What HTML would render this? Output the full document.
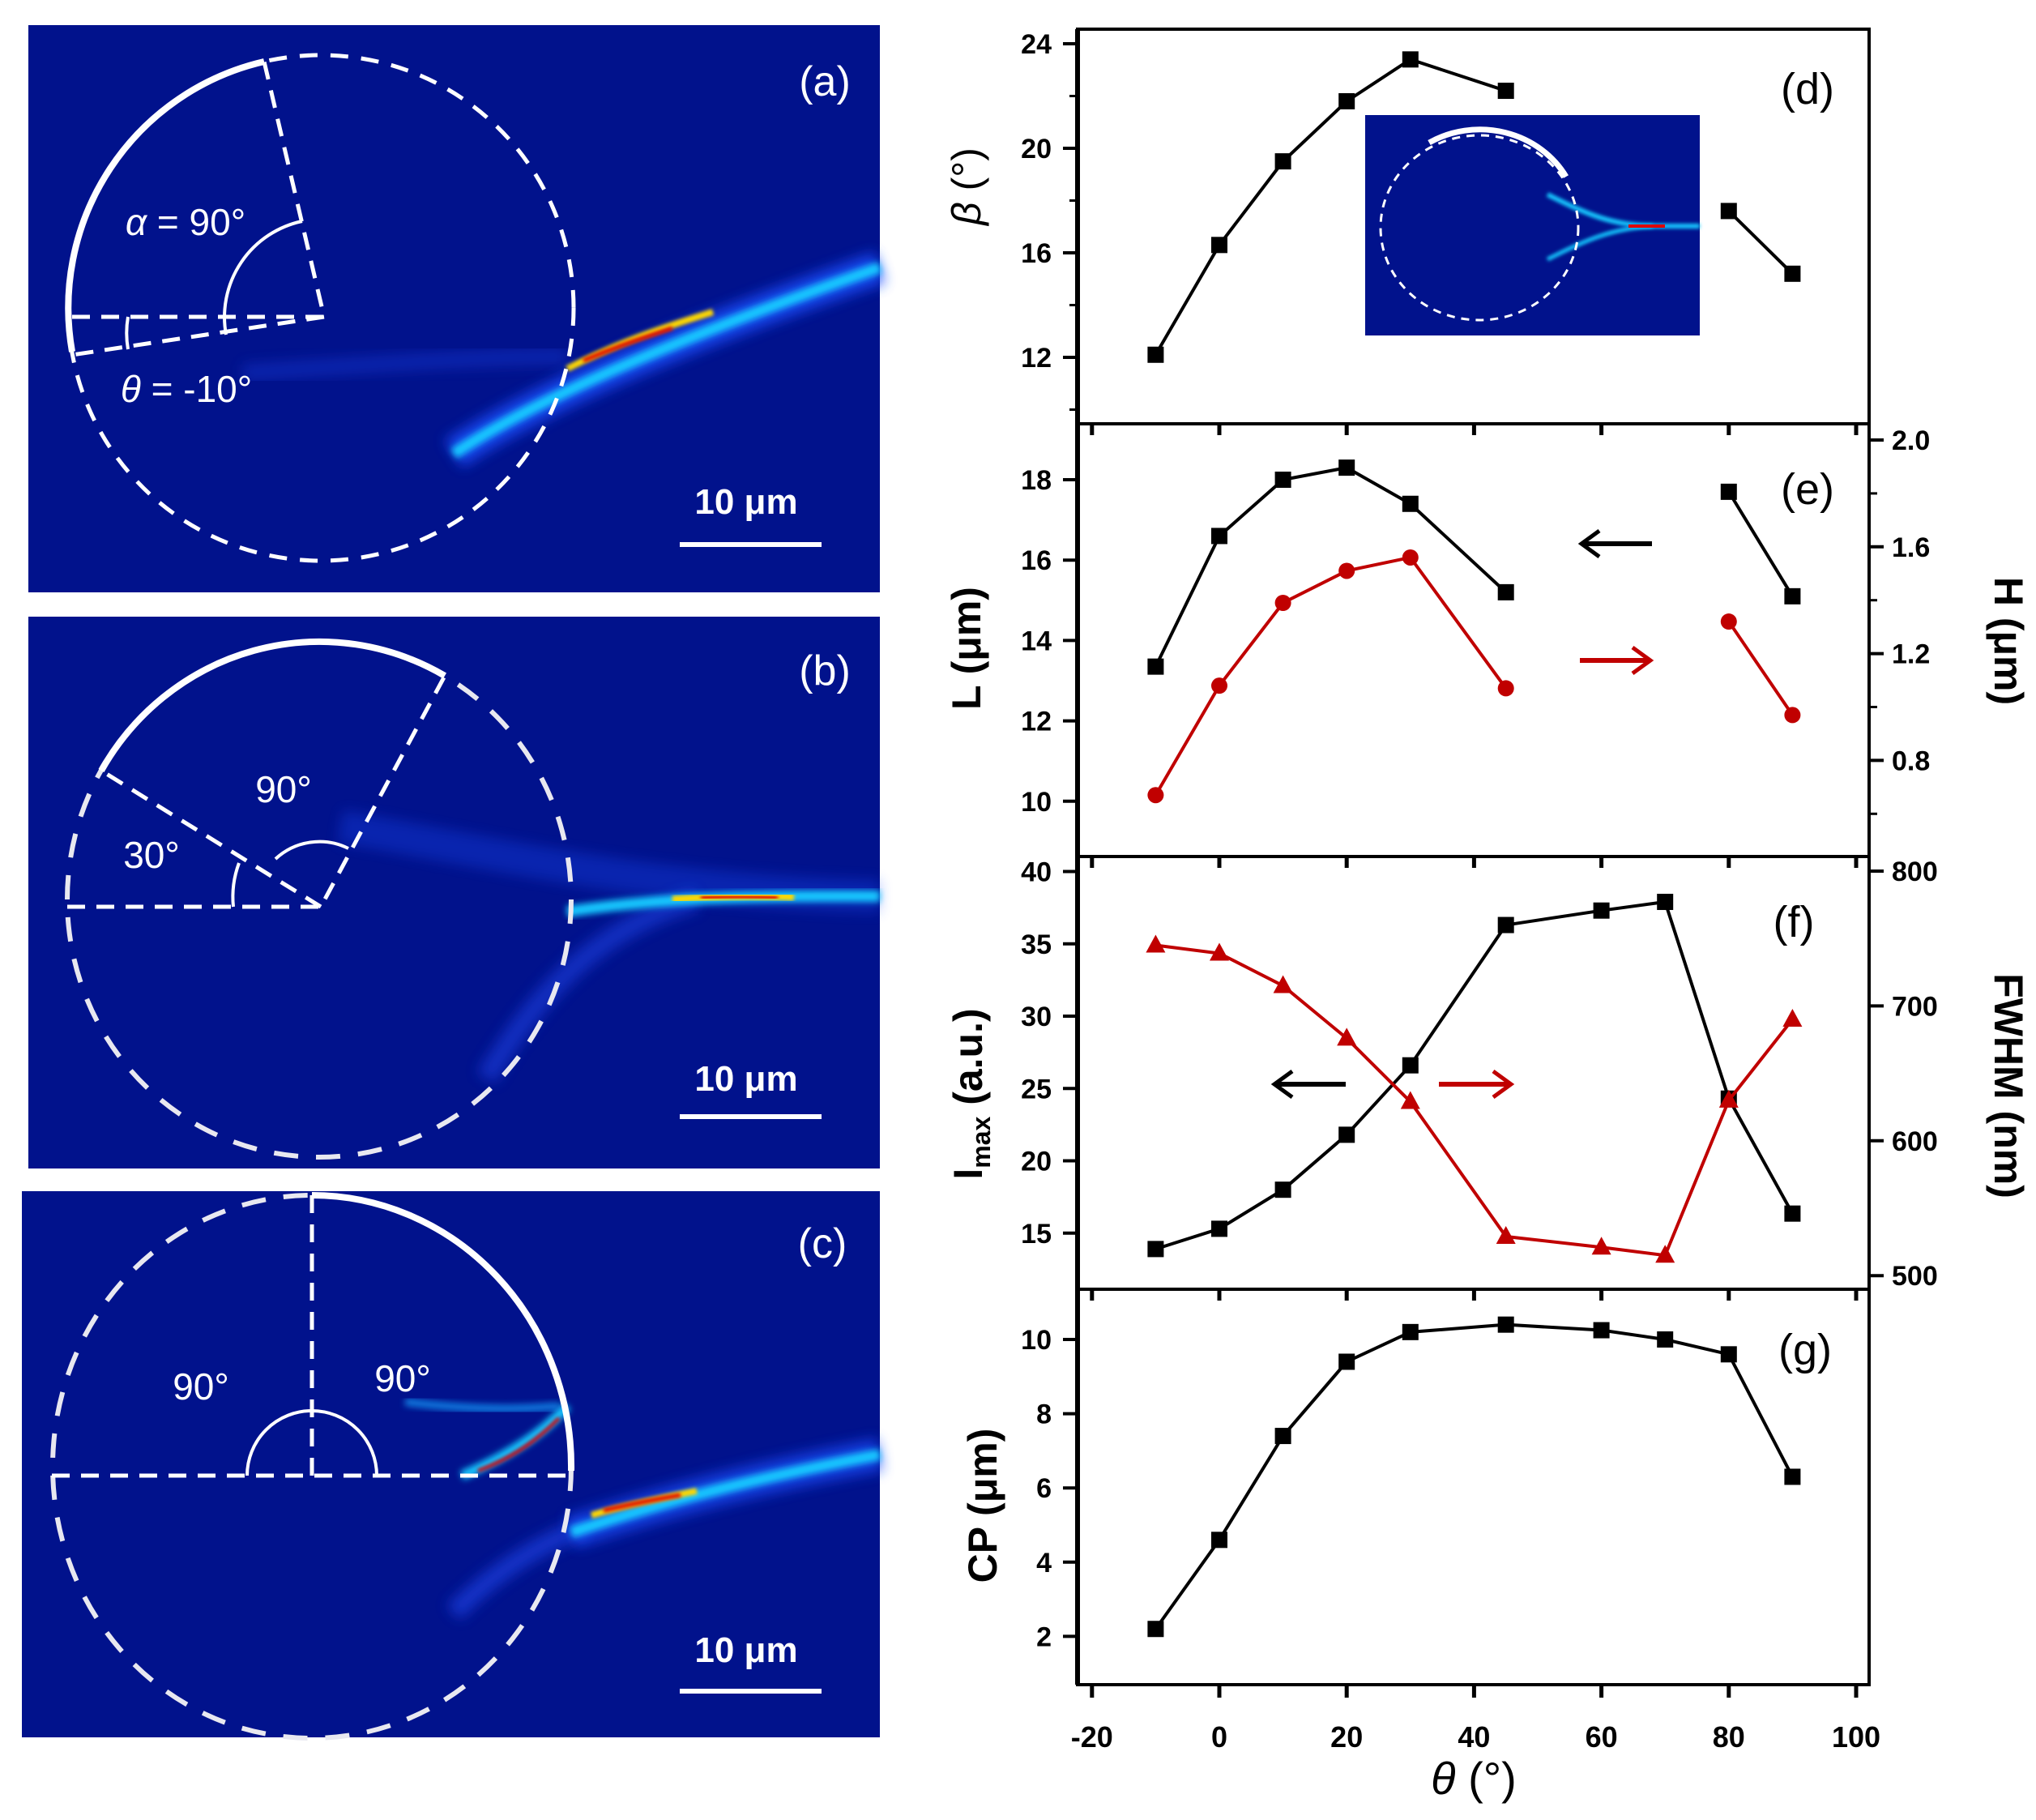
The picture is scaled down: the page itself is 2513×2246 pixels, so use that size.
<!DOCTYPE html>
<html><head><meta charset="utf-8"><style>
body{margin:0;background:#fff}
svg{display:block}
text{font-family:"Liberation Sans",sans-serif}
</style></head><body>
<svg id="fig" width="2513" height="2246" viewBox="0 0 2513 2246" xmlns="http://www.w3.org/2000/svg">
<defs>
<filter id="blur8" x="-50%" y="-50%" width="200%" height="200%"><feGaussianBlur stdDeviation="8"/></filter>
<filter id="blur4" x="-50%" y="-50%" width="200%" height="200%"><feGaussianBlur stdDeviation="4"/></filter>
<filter id="blur2" x="-50%" y="-50%" width="200%" height="200%"><feGaussianBlur stdDeviation="2"/></filter>
</defs>

<!-- Panel (a) -->
<g>
<rect x="35" y="31" width="1051" height="700" fill="#01128c"/>
<path d="M560,560 C650,500 800,430 1086,330" stroke="#1e50ff" stroke-width="40" fill="none" filter="url(#blur8)" opacity="0.8"/>
<path d="M560,560 C650,500 800,430 1086,330" stroke="#12c8ff" stroke-width="14" fill="none" filter="url(#blur4)"/>
<path d="M700,455 C760,425 800,410 880,385" stroke="#ffd800" stroke-width="8" fill="none" filter="url(#blur2)"/>
<path d="M720,445 C760,428 790,418 830,405" stroke="#e00000" stroke-width="5" fill="none" filter="url(#blur2)"/>
<path d="M300,460 C450,450 600,440 700,440" stroke="#1a40e0" stroke-width="20" fill="none" filter="url(#blur8)" opacity="0.4"/>
<circle cx="396" cy="380" r="312" fill="none" stroke="#fff" stroke-width="5" stroke-dasharray="22,16"/>
<path d="M326,76 A312,312 0 0 0 89,434" stroke="#fff" stroke-width="8" fill="none"/>
<path d="M89,391 L400,391 L326,76 M400,391 L89,438" stroke="#fff" stroke-width="5" stroke-dasharray="22,14" fill="none"/>
<path d="M279,413 A121,121 0 0 1 373,273" stroke="#fff" stroke-width="4" fill="none"/>
<path d="M158,391 A12,40 0 0 0 158,431" stroke="#fff" stroke-width="4" fill="none"/>
<text x="229" y="290" font-size="46" fill="#fff" text-anchor="middle"><tspan font-style="italic">α</tspan> = 90°</text>
<text x="230" y="496" font-size="46" fill="#fff" text-anchor="middle"><tspan font-style="italic">θ</tspan> = -10°</text>
<text x="1018" y="118" font-size="52" fill="#fff" text-anchor="middle">(a)</text>
<text x="921" y="634" font-size="44" font-weight="bold" fill="#fff" text-anchor="middle">10 μm</text>
<rect x="839" y="669" width="175" height="6" fill="#fff"/>
</g>

<!-- Panel (b) -->
<g>
<rect x="35" y="761" width="1051" height="681" fill="#01128c"/>
<path d="M600,1330 C650,1250 720,1150 860,1110" stroke="#1a40e0" stroke-width="26" fill="none" filter="url(#blur8)" opacity="0.6"/>
<path d="M420,1020 C600,1050 800,1100 1086,1106" stroke="#1e50ff" stroke-width="40" fill="none" filter="url(#blur8)" opacity="0.3"/>
<path d="M700,1125 C800,1110 900,1105 1086,1106" stroke="#12c8ff" stroke-width="14" fill="none" filter="url(#blur4)"/>
<path d="M830,1110 C880,1106 920,1105 980,1107" stroke="#ffd800" stroke-width="9" fill="none" filter="url(#blur2)"/>
<path d="M865,1108 C900,1106 930,1106 960,1108" stroke="#e00000" stroke-width="5" fill="none" filter="url(#blur2)"/>
<ellipse cx="394" cy="1110" rx="311" ry="318" fill="none" stroke="#e8e8f0" stroke-width="6" stroke-dasharray="30,22"/>
<path d="M549,834 A311,318 0 0 0 125,951" stroke="#fff" stroke-width="8" fill="none"/>
<path d="M83,1119 L396,1119 L549,834 M396,1119 L125,951" stroke="#fff" stroke-width="5" stroke-dasharray="22,14" fill="none"/>
<path d="M340,1060 A80,80 0 0 1 430,1047" stroke="#fff" stroke-width="4" fill="none"/>
<path d="M295,1065 A120,120 0 0 0 288,1119" stroke="#fff" stroke-width="4" fill="none"/>
<text x="350" y="990" font-size="46" fill="#fff" text-anchor="middle">90°</text>
<text x="187" y="1071" font-size="46" fill="#fff" text-anchor="middle">30°</text>
<text x="1018" y="845" font-size="52" fill="#fff" text-anchor="middle">(b)</text>
<text x="921" y="1346" font-size="44" font-weight="bold" fill="#fff" text-anchor="middle">10 μm</text>
<rect x="839" y="1375" width="175" height="6" fill="#fff"/>
</g>

<!-- Panel (c) -->
<g>
<rect x="27" y="1470" width="1059" height="674" fill="#01128c"/>
<path d="M560,1990 C620,1930 680,1900 720,1885" stroke="#1a40e0" stroke-width="24" fill="none" filter="url(#blur8)" opacity="0.7"/>
<path d="M705,1891 C800,1860 900,1830 1086,1795" stroke="#1e50ff" stroke-width="40" fill="none" filter="url(#blur8)" opacity="0.7"/>
<path d="M705,1891 C800,1860 900,1830 1086,1795" stroke="#12c8ff" stroke-width="14" fill="none" filter="url(#blur4)"/>
<path d="M730,1870 C770,1858 820,1848 860,1840" stroke="#ffd800" stroke-width="8" fill="none" filter="url(#blur2)"/>
<path d="M745,1864 C780,1856 810,1850 840,1845" stroke="#e00000" stroke-width="5" fill="none" filter="url(#blur2)"/>
<path d="M570,1821 C620,1800 670,1770 700,1735" stroke="#12c8ff" stroke-width="12" fill="none" filter="url(#blur4)"/>
<path d="M590,1815 C630,1800 660,1780 690,1750" stroke="#e00000" stroke-width="4" fill="none" filter="url(#blur2)"/>
<path d="M500,1730 C580,1740 640,1740 690,1735" stroke="#12a0ff" stroke-width="10" fill="none" filter="url(#blur4)" opacity="0.7"/>
<ellipse cx="385" cy="1810" rx="320" ry="335" fill="none" stroke="#e8e8f0" stroke-width="6" stroke-dasharray="30,22"/>
<path d="M385,1475 A320,335 0 0 1 705,1815" stroke="#fff" stroke-width="8" fill="none"/>
<path d="M64,1821 L705,1821 M385,1821 L385,1472" stroke="#fff" stroke-width="5" stroke-dasharray="22,14" fill="none"/>
<path d="M305,1821 A80,80 0 0 1 465,1821" stroke="#fff" stroke-width="4" fill="none"/>
<text x="248" y="1727" font-size="46" fill="#fff" text-anchor="middle">90°</text>
<text x="497" y="1717" font-size="46" fill="#fff" text-anchor="middle">90°</text>
<text x="1015" y="1552" font-size="52" fill="#fff" text-anchor="middle">(c)</text>
<text x="921" y="2051" font-size="44" font-weight="bold" fill="#fff" text-anchor="middle">10 μm</text>
<rect x="839" y="2084" width="175" height="6" fill="#fff"/>
</g>

<g id="charts"></g>
</svg>
<script>
var thetaD = [-10, 0, 10, 20, 30, 45, 80, 90];
var betaVals = [12.1, 16.3, 19.5, 21.8, 23.4, 22.2, 17.6, 15.2];
var lengthVals = [13.35, 16.6, 18.0, 18.3, 17.4, 15.2, 17.7, 15.1];
var heightVals = [0.67, 1.08, 1.39, 1.51, 1.56, 1.07, 1.32, 0.97];
var thetaF = [-10, 0, 10, 20, 30, 45, 60, 70, 80, 90];
var imaxVals = [13.9, 15.3, 18.0, 21.8, 26.6, 36.3, 37.3, 37.9, 24.3, 16.35];
var fwhmVals = [745, 739, 715, 676, 629, 529, 521, 515, 630, 690];
var cpVals = [2.2, 4.6, 7.4, 9.4, 10.2, 10.4, 10.25, 10.0, 9.6, 6.3];
var xTicks = [-20, 0, 20, 40, 60, 80, 100];
var betaTicks = [12, 16, 20, 24];
var lengthTicks = [10, 12, 14, 16, 18];
var heightTicks = [0.8, 1.2, 1.6, 2.0];
var imaxTicks = [15, 20, 25, 30, 35, 40];
var fwhmTicks = [500, 600, 700, 800];
var cpTicks = [2, 4, 6, 8, 10];

var NS = "http://www.w3.org/2000/svg";
var root = document.getElementById("charts");
var L = 1330, R = 2307;
function xs(v){ return 1505 + v * 7.86; }
function yBeta(v){ return 54 + (24 - v) * 32.25; }
function yLen(v){ return 592 + (18 - v) * 49.6; }
function yH(v){ return 543 + (2.0 - v) * 329.5; }
function yImax(v){ return 1075.5 + (40 - v) * 17.85; }
function yFwhm(v){ return 1075 + (800 - v) * 1.664; }
function yCp(v){ return 1653 + (10 - v) * 45.8; }
function mk(tag, attrs){ var e = document.createElementNS(NS, tag); for (var k in attrs) e.setAttribute(k, attrs[k]); root.appendChild(e); return e; }
function txt(x, y, s, size, anchor, extra){ var t = mk("text", {x:x, y:y, "font-size":size, "text-anchor":anchor||"middle", fill:"#000"}); if (extra) for (var k in extra) t.setAttribute(k, extra[k]); t.textContent = s; return t; }

var panels = [[36,523],[523,1057],[1057,1591],[1591,2079]];
panels.forEach(function(p, i){
  var r = mk("rect", {x:L, y:p[0], width:R-L, height:p[1]-p[0], fill:"none", stroke:"#000", "stroke-width":4});
  
  
  xTicks.forEach(function(t){
    if (i > 0) { var tk = mk("line", {x1:xs(t), x2:xs(t), y1:p[0], y2:p[0]+14, stroke:"#000", "stroke-width":5});   }
  });
});
mk("line", {x1:L, x2:L, y1:36, y2:2079, stroke:"#000", "stroke-width":6});
xTicks.forEach(function(t){
  var tk = mk("line", {x1:xs(t), x2:xs(t), y1:2079, y2:2095, stroke:"#000", "stroke-width":5});
  
  
  var lb = txt(xs(t), 2156, String(t), 36, "middle", {"font-weight":"bold"});
  
  
});

function leftAxis(ticks, fn, minors){
  ticks.forEach(function(t){
    var tk = mk("line", {x1:L-18, x2:L, y1:fn(t), y2:fn(t), stroke:"#000", "stroke-width":4});
    
    
    var lb = txt(L-32, fn(t)+12, String(t), 34, "end", {"font-weight":"bold"});
    
    
  });
  (minors||[]).forEach(function(t){ mk("line", {x1:L-10, x2:L, y1:fn(t), y2:fn(t), stroke:"#000", "stroke-width":3}); });
}
function rightAxis(ticks, fn, minors, fmt){
  ticks.forEach(function(t){
    var tk = mk("line", {x1:R, x2:R+18, y1:fn(t), y2:fn(t), stroke:"#000", "stroke-width":4});
    
    
    var lb = txt(R+28, fn(t)+12, fmt ? t.toFixed(1) : String(t), 34, "start", {"font-weight":"bold"});
    
    
  });
  (minors||[]).forEach(function(t){ mk("line", {x1:R, x2:R+10, y1:fn(t), y2:fn(t), stroke:"#000", "stroke-width":3}); });
}
leftAxis(betaTicks, yBeta, [10,14,18,22]);
leftAxis(lengthTicks, yLen);
rightAxis(heightTicks, yH, [0.6,1.0,1.4,1.8], true);
leftAxis(imaxTicks, yImax);
rightAxis(fwhmTicks, yFwhm);
leftAxis(cpTicks, yCp);

function series(xv, yv, fn, color, shape, name, breaks){
  var segs = [[]];
  xv.forEach(function(x, i){ if (breaks && breaks.indexOf(i) >= 0) segs.push([]); segs[segs.length-1].push(xs(x)+","+fn(yv[i])); });
  segs.forEach(function(s){
    var pl = mk("polyline", {points:s.join(" "), fill:"none", stroke:color, "stroke-width":4});
    
    
  });
  xv.forEach(function(x, i){
    var cx = xs(x), cy = fn(yv[i]), m;
    if (shape === "sq") m = mk("rect", {x:cx-10, y:cy-10, width:20, height:20, fill:color});
    else if (shape === "ci") m = mk("circle", {cx:cx, cy:cy, r:10, fill:color});
    else m = mk("polygon", {points:(cx)+","+(cy-13)+" "+(cx-12)+","+(cy+9)+" "+(cx+12)+","+(cy+9), fill:color});
    
    
  });
}
series(thetaD, betaVals, yBeta, "#000", "sq", "beta", [6]);
series(thetaD, lengthVals, yLen, "#000", "sq", "length", [6]);
series(thetaD, heightVals, yH, "#c00000", "ci", "height", [6]);
series(thetaF, imaxVals, yImax, "#000", "sq", "imax");
series(thetaF, fwhmVals, yFwhm, "#c00000", "tri", "fwhm");
series(thetaF, cpVals, yCp, "#000", "sq", "cp");

// inset in (d)
var ins = document.createElementNS(NS, "g");


ins.innerHTML = '<rect x="1685" y="142" width="413" height="272" fill="#01128c"/>' +
 '<path d="M1910,240 C1960,265 1990,278 2040,279 C2070,279 2085,279 2098,279" stroke="#12c8ff" stroke-width="6" fill="none" filter="url(#blur2)"/>' +
 '<path d="M1910,320 C1960,295 1990,282 2040,279" stroke="#12c8ff" stroke-width="5" fill="none" filter="url(#blur2)"/>' +
 '<path d="M2010,279 L2055,279" stroke="#e00000" stroke-width="4" fill="none"/>' +
 '<ellipse cx="1826" cy="281" rx="122" ry="114" fill="none" stroke="#fff" stroke-width="3" stroke-dasharray="10,8"/>' +
 '<path d="M1764,176 A122,114 0 0 1 1933,218" stroke="#fff" stroke-width="7" fill="none"/>';
root.appendChild(ins);

// arrows
function arrow(x1, x2, y, color, dir, name){
  var g = document.createElementNS(NS, "g");
  
  
  var tip = dir < 0 ? x1 : x2;
  g.innerHTML = '<line x1="'+x1+'" x2="'+x2+'" y1="'+y+'" y2="'+y+'" stroke="'+color+'" stroke-width="6"/>' +
    '<polyline points="'+(tip - dir*22)+','+(y-16)+' '+tip+','+y+' '+(tip - dir*22)+','+(y+16)+'" fill="none" stroke="'+color+'" stroke-width="5"/>';
  root.appendChild(g);
}
arrow(1952, 2039, 671, "#000", -1, "left-axis-arrow-e");
arrow(1950, 2037, 815, "#c00000", 1, "right-axis-arrow-e");
arrow(1573, 1661, 1338, "#000", -1, "left-axis-arrow-f");
arrow(1776, 1865, 1338, "#c00000", 1, "right-axis-arrow-f");

// panel labels
[["(d)",2231,128],["(e)",2231,622],["(f)",2214,1156],["(g)",2228,1684]].forEach(function(p){
  var t = txt(p[1], p[2], p[0], 54, "middle");
  
  
});

// axis titles
function vtitle(x, y, s, rot, name){
  var t = mk("text", {x:x, y:y, "font-size":50, "text-anchor":"middle", "font-weight":"bold", transform:"rotate("+rot+" "+x+" "+y+")"});
  t.innerHTML = s;
  
  
}
vtitle(1210, 230, '<tspan font-style="italic" font-weight="normal">β</tspan><tspan font-weight="normal"> (°)</tspan>', -90, 'beta-axis-title');
vtitle(1210, 800, 'L (μm)', -90, 'length-axis-title');
vtitle(1212, 1350, 'I<tspan font-size="32" dy="10">max</tspan><tspan dy="-10"> (a.u.)</tspan>', -90, 'imax-axis-title');
vtitle(1230, 1858, 'CP (μm)', -90, 'cp-axis-title');
vtitle(2462, 791, 'H (μm)', 90, 'height-axis-title');
vtitle(2462, 1340, 'FWHM (nm)', 90, 'fwhm-axis-title');
var xt = txt(1819, 2214, "", 56, "middle");
xt.innerHTML = '<tspan font-style="italic">θ</tspan> (°)';


</script>
</body></html>
